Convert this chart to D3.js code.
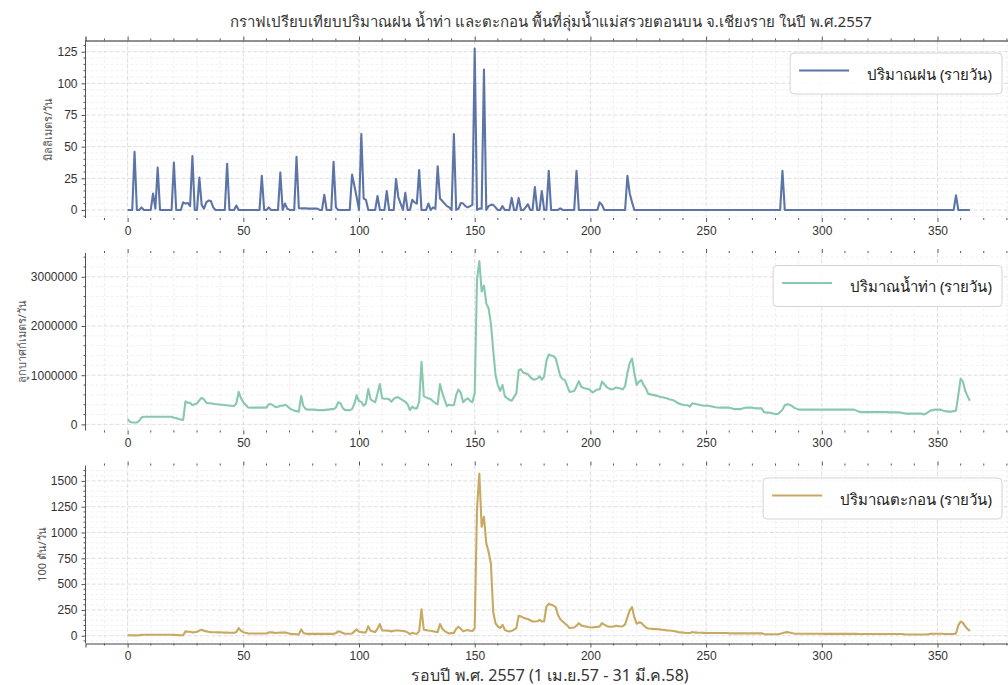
<!DOCTYPE html>
<html>
<head>
<meta charset="utf-8">
<script src="https://cdn.jsdelivr.net/npm/d3@7"></script>
<style>
  body { margin: 0; background: #fff; }
  svg { display: block; font-family: "Noto Sans", "DejaVu Sans", sans-serif; }
</style>
</head>
<body>
<svg id="chart" width="1008" height="685"></svg>
<script>
// Daily rainfall (mm/day), 1 Apr 2014 - 31 Mar 2015
const rainfall = [
  0,0,0,46,0,0,2,0,0,0,
  0,13,1,33.5,0,0,0,0,0,0,
  37.5,0,0,0,6,5,5.5,3,42.5,0,
  0,25.5,4,1,6,7.5,7,2,0,0,
  0,0,0,36.5,0,0,0,3.5,0,0,
  0,0,0,0,0,0,0,0,27,0,
  0,2,0,0,0,0,29.5,0,5,1,
  0,0,0,42,1.5,1.2,1.2,1.2,1,1,
  1,1,1,0,0,12,0,0,0,38,
  2,0,0,0,0,0,0,28,19,10,
  0,60,9,8,0,0,0,0,11,0,
  0,0,15,0,0,0,24.5,10,5,0,
  13.5,0,0,8,6,5,31.5,0,0,0,
  5,0,2,1,34.5,9,7,5,3,2,
  0,60,0,1,5.5,5,3,2,3,4,
  127.5,0,1,1,111,0,3,4,4,2,
  0,0,3,0,0,0,9.5,0,0,9.5,
  0,0,2,4.5,0,0,18,0,0,15,
  0,0,31,0,0,0,0,1.3,0,0,
  0,0,0,0,31,0,0,0,0,0,
  0,0,0,0,6,4,0,0,0,0,
  0,0,0,0,0,0,27,13,6,0,
  0,0,0,0,0,0,0,0,0,0,
  0,0,0,0,0,0,0,0,0,0,
  0,0,0,0,0,0,0,0,0,0,
  0,0,0,0,0,0,0,0,0,0,
  0,0,0,0,0,0,0,0,0,0,
  0,0,0,0,0,0,0,0,0,0,
  0,0,0,31,0,0,0,0,0,0,
  0,0,0,0,0,0,0,0,0,0,
  0,0,0,0,0,0,0,0,0,0,
  0,0,0,0,0,0,0,0,0,0,
  0,0,0,0,0,0,0,0,0,0,
  0,0,0,0,0,0,0,0,0,0,
  0,0,0,0,0,0,0,0,0,0,
  0,0,0,0,0,0,0,0,11.5,0,
  0,0,0,0,0
];

// Daily runoff (m³/day)
const runoff = [
  108000,54000,40000,40000,40000,70000,140000,155000,155000,155000,
  155000,155000,155000,155000,155000,155000,155000,155000,155000,155000,
  135000,130000,110000,100000,88000,470000,440000,440000,390000,410000,
  430000,490000,540000,510000,440000,430000,430000,420000,410000,410000,
  400000,400000,390000,390000,380000,380000,370000,430000,660000,530000,
  450000,400000,345000,340000,340000,340000,340000,340000,340000,340000,
  340000,410000,410000,380000,350000,360000,380000,380000,400000,370000,
  330000,300000,280000,270000,260000,575000,370000,310000,300000,300000,
  300000,300000,290000,290000,290000,290000,300000,300000,310000,310000,
  340000,450000,430000,330000,290000,290000,290000,310000,420000,590000,
  470000,460000,380000,430000,720000,510000,480000,450000,630000,820000,
  530000,520000,520000,510000,460000,520000,550000,550000,520000,490000,
  460000,410000,290000,360000,325000,325000,460000,1270000,575000,550000,
  530000,510000,470000,430000,410000,820000,640000,500000,370000,400000,
  390000,390000,600000,710000,640000,450000,500000,530000,480000,450000,
  640000,2950000,3320000,2700000,2820000,2460000,2360000,2050000,1510000,1000000,
  800000,680000,800000,575000,535000,500000,480000,560000,630000,1100000,
  1120000,1050000,1040000,1020000,960000,920000,910000,930000,980000,910000,
  970000,1290000,1420000,1400000,1390000,1340000,1160000,980000,920000,900000,
  780000,660000,670000,680000,770000,880000,770000,740000,730000,720000,
  690000,650000,680000,710000,710000,870000,820000,760000,730000,710000,
  720000,750000,740000,730000,710000,780000,1050000,1250000,1340000,1040000,
  800000,870000,900000,800000,730000,620000,610000,600000,590000,580000,
  560000,550000,540000,530000,510000,500000,490000,460000,430000,410000,
  400000,390000,390000,360000,430000,420000,410000,400000,390000,380000,
  380000,380000,370000,360000,350000,345000,340000,340000,340000,340000,
  340000,330000,310000,310000,310000,310000,330000,340000,340000,340000,
  340000,330000,325000,325000,325000,250000,240000,240000,230000,220000,
  210000,210000,250000,300000,390000,410000,400000,380000,340000,320000,
  300000,300000,300000,300000,300000,300000,300000,300000,300000,300000,
  300000,300000,300000,300000,300000,300000,300000,300000,300000,300000,
  300000,300000,300000,300000,300000,280000,260000,250000,250000,250000,
  250000,250000,250000,250000,250000,250000,250000,250000,250000,245000,
  245000,245000,245000,245000,240000,230000,220000,220000,220000,220000,
  220000,220000,220000,220000,200000,220000,250000,280000,290000,300000,
  300000,300000,290000,270000,265000,260000,260000,270000,280000,600000,
  930000,870000,680000,570000,480000
];

// Daily suspended sediment (100 t/day)
const sediment = [
  6,4,3,3,3,5,8,9,9,9,
  9,9,9,9,9,9,9,9,9,9,
  8,7,6,5,5,42,38,38,32,34,
  38,50,58,48,42,38,35,34,33,32,
  32,31,30,30,29,29,28,35,74,48,
  34,28,23,22,22,22,22,22,22,22,
  22,32,32,30,26,28,30,30,32,26,
  20,16,15,14,13,61,26,19,18,18,
  18,18,18,18,18,18,18,18,18,18,
  25,42,38,25,19,19,19,22,42,61,
  38,35,32,35,90,48,42,35,68,113,
  51,50,49,48,42,48,51,51,48,45,
  42,32,16,28,22,19,42,257,58,54,
  50,48,43,39,35,113,68,45,32,22,
  25,26,68,87,68,42,50,55,48,45,
  74,1233,1571,1056,1152,895,814,700,230,120,
  90,74,106,58,45,42,46,60,74,193,
  187,175,168,161,150,138,138,140,154,138,
  140,283,309,300,293,277,200,160,138,118,
  100,74,77,80,97,122,100,95,90,85,
  82,80,84,86,90,122,108,95,87,87,
  90,97,93,90,92,110,180,245,277,177,
  116,129,125,100,80,70,68,66,64,62,
  61,58,55,52,50,48,45,40,35,32,
  30,28,27,26,35,32,30,29,29,28,
  26,26,26,26,26,26,26,26,26,26,
  23,23,23,23,23,23,23,23,23,23,
  23,23,23,23,23,17,14,14,14,14,
  14,14,18,25,32,35,32,26,22,19,
  19,19,19,19,19,19,19,19,19,19,
  19,18,18,18,18,18,18,18,18,18,
  18,18,18,18,18,18,16,16,16,16,
  16,16,16,16,16,16,16,16,16,16,
  16,16,16,16,16,16,12,12,12,12,
  12,12,12,12,12,12,15,18,19,19,
  19,19,19,16,16,16,16,16,22,100,
  138,125,90,65,45
];

const dayIndex = rainfall.map((_, i) => i);

const xMajorTicks = [0, 50, 100, 150, 200, 250, 300, 350];
const rainTicks = [0, 25, 50, 75, 100, 125];
const runoffTicks = [0, 1000000, 2000000, 3000000];
const sedimentTicks = [0, 250, 500, 750, 1000, 1250, 1500];

const titleText = "กราฟเปรียบเทียบปริมาณฝน น้ำท่า และตะกอน พื้นที่ลุ่มน้ำแม่สรวยตอนบน จ.เชียงราย ในปี พ.ศ.2557";
const xLabelText = "รอบปี พ.ศ. 2557 (1 เม.ย.57 - 31 มี.ค.58)";

const panels = [
  { values: rainfall, ticks: rainTicks, minorStep: 5, top: 40.5, bottom: 218,
    color: "#5d75a6", legend: "ปริมาณฝน (รายวัน)", ylabel: "มิลลิเมตร/วัน", topSpine: true },
  { values: runoff, ticks: runoffTicks, minorStep: 200000, top: 253, bottom: 430.5,
    color: "#88c9ae", legend: "ปริมาณน้ำท่า (รายวัน)", ylabel: "ลูกบาศก์เมตร/วัน" },
  { values: sediment, ticks: sedimentTicks, minorStep: 50, top: 465.5, bottom: 643.5,
    color: "#c8a962", legend: "ปริมาณตะกอน (รายวัน)", ylabel: "100 ตัน/วัน", bottomSpine: true }
];

const svg = d3.select("#chart");
const left = 85.5, right = 1012;
const n = dayIndex.length;
const xPad = (n - 1) * 0.05;
const x = d3.scaleLinear().domain([-xPad, (n - 1) + xPad]).range([left, right]);

const xMinor = d3.range(-10, 390, 10).filter(v => v > x.domain()[0] && v < x.domain()[1] && v % 50 !== 0);

panels.forEach(p => {
  const [lo, hi] = d3.extent(p.values);
  const pad = (hi - lo) * 0.05;
  const y = d3.scaleLinear().domain([lo - pad, hi + pad]).range([p.bottom, p.top]);
  const g = svg.append("g");
  const yMinor = d3.range(Math.ceil(y.domain()[0] / p.minorStep) * p.minorStep, y.domain()[1], p.minorStep)
    .filter(v => !p.ticks.includes(v));

  // grid: minor first, then major
  const grid = g.append("g");
  grid.selectAll(".vmin").data(xMinor).join("line")
    .attr("x1", d => x(d)).attr("x2", d => x(d)).attr("y1", p.top).attr("y2", p.bottom)
    .attr("stroke", "#ebebeb").attr("stroke-width", 0.7).attr("stroke-dasharray", "3,2");
  grid.selectAll(".hmin").data(yMinor).join("line")
    .attr("x1", left).attr("x2", right).attr("y1", d => y(d)).attr("y2", d => y(d))
    .attr("stroke", "#ebebeb").attr("stroke-width", 0.7).attr("stroke-dasharray", "3,2");
  grid.selectAll(".vmaj").data(xMajorTicks).join("line")
    .attr("x1", d => x(d)).attr("x2", d => x(d)).attr("y1", p.top).attr("y2", p.bottom)
    .attr("stroke", "#d6d6d6").attr("stroke-width", 0.8).attr("stroke-dasharray", "4,2");
  grid.selectAll(".hmaj").data(p.ticks).join("line")
    .attr("x1", left).attr("x2", right).attr("y1", d => y(d)).attr("y2", d => y(d))
    .attr("stroke", "#d6d6d6").attr("stroke-width", 0.8).attr("stroke-dasharray", "4,2");

  // series line
  g.append("path")
    .datum(dayIndex)
    .attr("fill", "none")
    .attr("stroke", p.color)
    .attr("stroke-width", 2.1)
    .attr("stroke-linejoin", "round")
    .attr("d", d3.line().x(d => x(d)).y(d => y(p.values[d])));

  // left axis with major + minor ticks
  const yAxis = g.append("g").attr("transform", `translate(${left},0)`)
    .call(d3.axisLeft(y).tickValues(p.ticks).tickFormat(d3.format("d")).tickSize(4).tickPadding(4));
  yAxis.select(".domain").attr("stroke", "#555").attr("d", `M0,${p.top}V${p.bottom}`);
  yAxis.selectAll(".tick line").attr("stroke", "#555");
  yAxis.selectAll(".tick text").attr("fill", "#333").style("font-size", "12px");
  yAxis.selectAll(".ymin").data(yMinor).join("line")
    .attr("x1", 0).attr("x2", -2).attr("y1", d => y(d)).attr("y2", d => y(d))
    .attr("stroke", "#555");

  // bottom axis with labels
  const xAxisB = g.append("g").attr("transform", `translate(0,${p.bottom})`)
    .call(d3.axisBottom(x).tickValues(xMajorTicks).tickFormat(d3.format("d")).tickSize(4).tickPadding(4));
  xAxisB.select(".domain").attr("stroke", p.bottomSpine ? "#444" : "none");
  xAxisB.selectAll(".tick line").attr("stroke", "#555");
  xAxisB.selectAll(".tick text").attr("fill", "#333").style("font-size", "12px");
  xAxisB.selectAll(".xminb").data(xMinor).join("line")
    .attr("x1", d => x(d)).attr("x2", d => x(d)).attr("y1", 0).attr("y2", 2)
    .attr("stroke", "#555");

  // top tick marks
  const xAxisT = g.append("g").attr("transform", `translate(0,${p.top})`)
    .call(d3.axisTop(x).tickValues(xMajorTicks).tickFormat("").tickSize(4));
  xAxisT.select(".domain").attr("stroke", p.topSpine ? "#222" : "none");
  xAxisT.selectAll(".tick line").attr("stroke", "#555");
  xAxisT.selectAll(".xmint").data(xMinor).join("line")
    .attr("x1", d => x(d)).attr("x2", d => x(d)).attr("y1", 0).attr("y2", -2)
    .attr("stroke", "#555");

  // y label, placed left of the widest tick label
  const bb = yAxis.node().getBBox();
  const ly = (p.top + p.bottom) / 2;
  const lx = left + bb.x - 5;
  g.append("text")
    .attr("transform", `translate(${lx},${ly}) rotate(-90)`)
    .attr("text-anchor", "middle")
    .attr("fill", "#555")
    .style("font-size", "11px")
    .text(p.ylabel);

  // legend (upper right)
  const lg = g.append("g");
  const lt = lg.append("text").style("font-size", "15px").attr("fill", "#222").text(p.legend);
  const tw = lt.node().getComputedTextLength();
  const boxW = 9 + 50 + 18 + tw + 10;
  const boxH = 41;
  const bx = 1002 - boxW, by = p.top + 12.5;
  lg.insert("rect", "text")
    .attr("x", bx).attr("y", by).attr("width", boxW).attr("height", boxH)
    .attr("rx", 4).attr("fill", "#fff").attr("fill-opacity", 0.85)
    .attr("stroke", "#d4d4d4");
  lg.append("line")
    .attr("x1", bx + 9).attr("x2", bx + 59).attr("y1", by + 17.5).attr("y2", by + 17.5)
    .attr("stroke", p.color).attr("stroke-width", 2);
  lt.attr("x", bx + 77).attr("y", by + 26.5);
});

svg.append("text")
  .attr("x", 551).attr("y", 27)
  .attr("text-anchor", "middle")
  .attr("fill", "#333")
  .style("font-size", "15px")
  .text(titleText);

svg.append("text")
  .attr("x", 550).attr("y", 681)
  .attr("text-anchor", "middle")
  .attr("fill", "#333")
  .style("font-size", "16px")
  .text(xLabelText);
</script>
</body>
</html>
